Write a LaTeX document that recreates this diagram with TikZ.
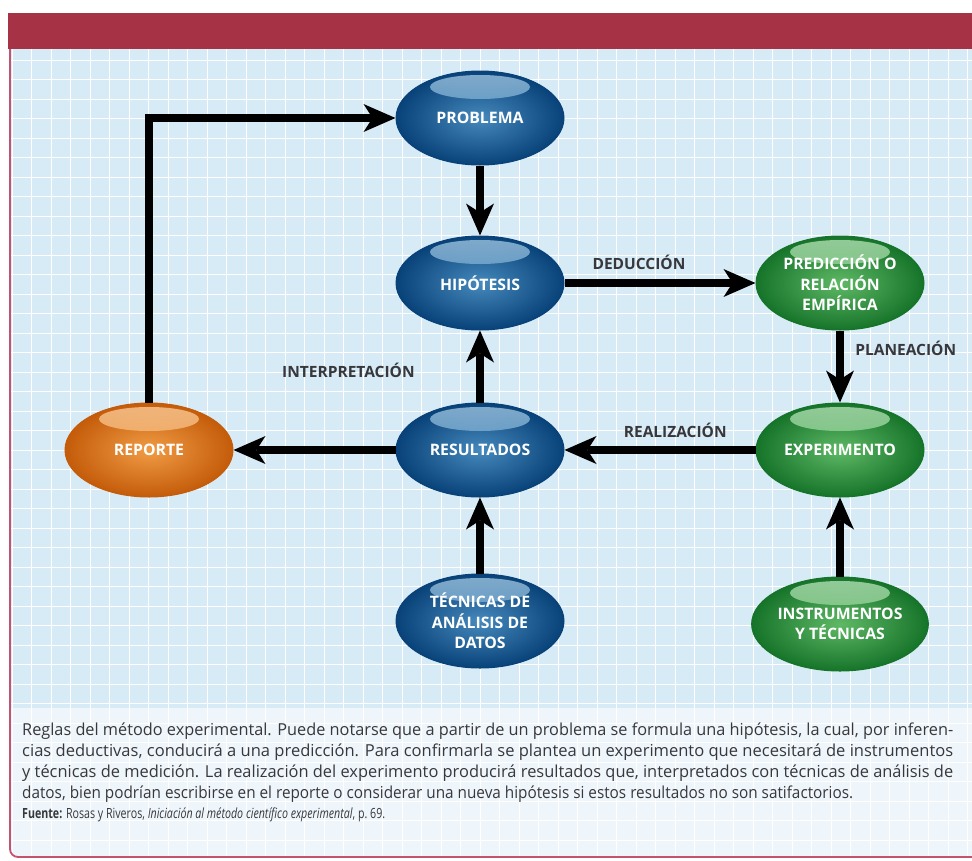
\documentclass[tikz,border=0pt]{standalone}
\usepackage{fontspec}
\setmainfont{Open Sans}
\usepackage{graphicx}
\usetikzlibrary{positioning,arrows.meta,shapes.geometric}

\definecolor{barra}{RGB}{166,50,70}
\definecolor{borde}{RGB}{196,84,110}
\definecolor{cuadro}{RGB}{214,235,246}
\definecolor{pie}{RGB}{238,246,251}
\definecolor{azul}{RGB}{24,108,172}
\definecolor{azuloscuro}{RGB}{8,66,120}
\definecolor{verde}{RGB}{66,172,74}
\definecolor{verdeoscuro}{RGB}{22,116,42}
\definecolor{naranja}{RGB}{238,138,36}
\definecolor{naranjaoscuro}{RGB}{196,92,10}
\definecolor{texto}{RGB}{55,55,60}

\begin{document}
\begin{tikzpicture}[x=1pt,y=-1pt,
    burbuja/.style={ellipse, minimum width=168pt, minimum height=94pt, inner sep=0pt,
        align=center, text=white, font=\bfseries\fontsize{15.8}{20.5}\selectfont, line width=1pt},
    azulb/.style={burbuja, inner color=azul!80!white, outer color=azuloscuro, draw=azuloscuro,
        path picture={\shade[top color=white!55!azul, bottom color=azul!90!white, opacity=.85]
            ([yshift=31pt]path picture bounding box.center) ellipse [x radius=50pt, y radius=12pt];}},
    verdeb/.style={burbuja, inner color=verde!85!white, outer color=verdeoscuro, draw=verdeoscuro,
        path picture={\shade[top color=white!55!verde, bottom color=verde!90!white, opacity=.85]
            ([yshift=31pt]path picture bounding box.center) ellipse [x radius=50pt, y radius=12pt];}},
    naranjab/.style={burbuja, inner color=naranja!85!white, outer color=naranjaoscuro, draw=naranjaoscuro,
        path picture={\shade[top color=white!50!naranja, bottom color=naranja!90!white, opacity=.85]
            ([yshift=31pt]path picture bounding box.center) ellipse [x radius=50pt, y radius=12pt];}},
    flecha/.style={line width=8pt, -{Stealth[length=32pt,width=28pt,inset=9pt,line width=0pt]}},
    etiqueta/.style={font=\bfseries\fontsize{15.5}{18}\selectfont, text=texto}]

    \useasboundingbox (0,0) rectangle (972,860);
    \fill[white] (0,0) rectangle (972,860);

    % fondo cuadriculado
    \fill[barra] (8,13) rectangle (972,49);
    \fill[pie, rounded corners=8pt] (10,49) -- (10,857) -- (980,857) -- (980,49) -- cycle;
    \fill[cuadro] (10,49) rectangle (972,708);
    \foreach \x in {12,31.5,...,972} \draw[white, line width=.9pt] (\x,49) -- (\x,856);
    \foreach \y in {60,79.5,...,856} \draw[white, line width=.9pt] (11,\y) -- (972,\y);
    \draw[borde, line width=1.8pt, rounded corners=8pt] (10,49) -- (10,857) -- (980,857);

    \node[azulb] (prob) at (480,118) {PROBLEMA};
    \node[azulb] (hip) at (480,283) {HIPÓTESIS};
    \node[verdeb] (pred) at (840,283) {PREDICCIÓN O\\RELACIÓN\\EMPÍRICA};
    \node[naranjab] (rep) at (149,450) {REPORTE};
    \node[azulb] (res) at (480,450) {RESULTADOS};
    \node[verdeb] (exp) at (840,450) {EXPERIMENTO};
    \node[azulb] (tec) at (480,621) {TÉCNICAS DE\\ANÁLISIS DE\\DATOS};
    \node[verdeb] (ins) at (840,624) {INSTRUMENTOS\\Y TÉCNICAS};

    \draw[flecha] (rep.north) |- (prob.west);
    \draw[flecha] (prob.south) -- (hip.north);
    \draw[flecha] (hip.east) -- node[etiqueta, above=6pt, pos=.39] (ded) {DEDUCCIÓN} (pred.west);
    \draw[flecha] (pred.south) -- node[etiqueta, right=8pt, pos=.25] (pla) {PLANEACIÓN} (exp.north);
    \draw[flecha] (exp.west) -- node[etiqueta, above=5pt, pos=.42] (rea) {REALIZACIÓN} (res.east);
    \draw[flecha] (res.north) -- node[etiqueta, left=58pt, pos=.45] (int) {INTERPRETACIÓN} (hip.south);
    \draw[flecha] (res.west) -- (rep.east);
    \draw[flecha] (tec.north) -- (res.south);
    \draw[flecha] (ins.north) -- (exp.south);

    % pie de figura
    \begin{scope}[every node/.style={anchor=west, inner sep=0pt, text=texto, font=\fontsize{16.5}{18}\selectfont}]
    \node (l1) at (22,731) {\resizebox{931pt}{\height}{Reglas del método experimental. Puede notarse que a partir de un problema se formula una hipótesis, la cual, por inferen-}};
    \node (l2) at (22,752) {\resizebox{931pt}{\height}{cias deductivas, conducirá a una predicción. Para confirmarla se plantea un experimento que necesitará de instrumentos}};
    \node (l3) at (22,773) {\resizebox{931pt}{\height}{y técnicas de medición. La realización del experimento producirá resultados que, interpretados con técnicas de análisis de}};
    \node (l4) at (22,794) {\resizebox{831pt}{\height}{datos, bien podrían escribirse en el reporte o considerar una nueva hipótesis si estos resultados no son satifactorios.}};
    \node (fte) at (22,815) {\fontsize{14}{16}\selectfont\resizebox{363pt}{\height}{\textbf{Fuente:} Rosas y Riveros, \textit{Iniciación al método científico experimental}, p.~69.}};
    \end{scope}
\end{tikzpicture}
\end{document}
